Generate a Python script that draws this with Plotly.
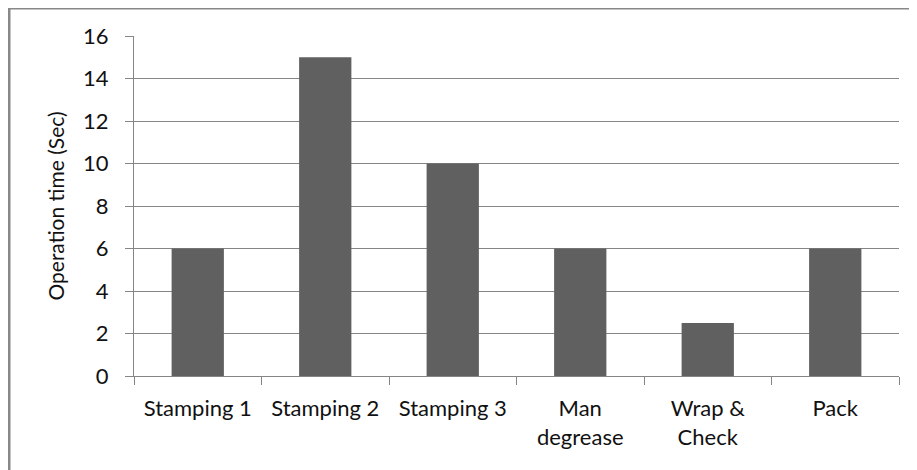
import plotly.graph_objects as go

categories = ["Stamping 1", "Stamping 2", "Stamping 3", "Man<br>degrease", "Wrap &<br>Check", "Pack"]
op_time = [6, 15, 10, 6, 2.5, 6]
y_ticks = [0, 2, 4, 6, 8, 10, 12, 14, 16]

# page has an 8px body margin, so figure coordinates are offset by 8px
W, H = 909, 462
ml, mr, mt, mb = 126, 18, 28, 94
pw, ph = W - ml - mr, H - mt - mb

def px_x(p):
    return (p - ml) / pw

def px_y(p):
    return (H - mb - p) / ph

fig = go.Figure(go.Bar(x=categories, y=op_time, marker=dict(color="#606060", line=dict(width=0))))

grid = "#868686"
fs = 22
fig.update_layout(
    width=W, height=H,
    margin=dict(l=ml, r=mr, t=mt, b=mb),
    paper_bgcolor="white", plot_bgcolor="white",
    bargap=0.59,
    showlegend=False,
    font=dict(family="Lato, 'Open Sans', sans-serif", size=fs, color="#111111"),
    xaxis=dict(
        type="category", tickson="boundaries", ticks="outside", ticklen=8, tickcolor=grid,
        showline=True, linecolor=grid, linewidth=1, showgrid=False,
        tickfont=dict(size=fs), ticklabelstandoff=13,
    ),
    yaxis=dict(
        range=[0, 16], tickvals=y_ticks, ticks="outside", ticklen=8, tickcolor=grid,
        showline=True, linecolor=grid, linewidth=1, showgrid=True, gridcolor=grid, gridwidth=1,
        zeroline=False, tickfont=dict(size=fs), ticklabelstandoff=12,
        title=dict(text="Operation time (Sec)", font=dict(size=fs - 1), standoff=12),
    ),
    shapes=[
        dict(type="line", xref="paper", yref="paper", x0=px_x(1), x1=px_x(1), y0=px_y(-2), y1=px_y(470),
             line=dict(color="#888888", width=3)),
        dict(type="line", xref="paper", yref="paper", x0=px_x(0), x1=px_x(917), y0=px_y(0), y1=px_y(0),
             line=dict(color="#888888", width=3)),
    ],
)

fig.write_html("out.html")
